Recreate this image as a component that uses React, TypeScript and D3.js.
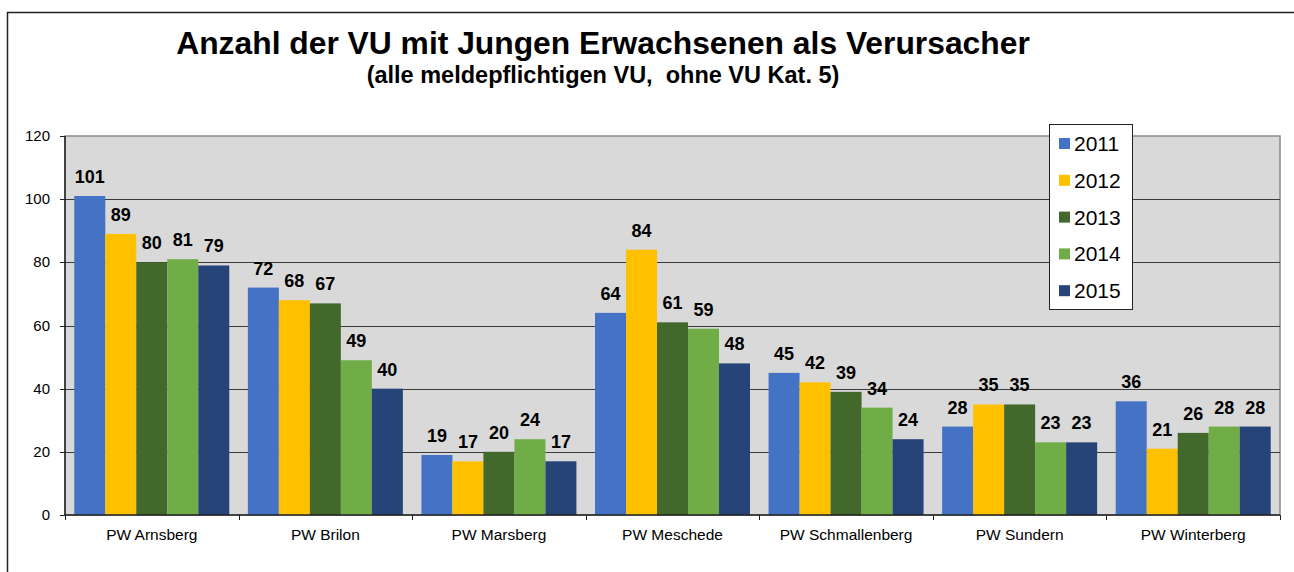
import React, { useEffect, useRef } from 'react';
import * as d3 from 'd3';

const categories = ['PW Arnsberg', 'PW Brilon', 'PW Marsberg', 'PW Meschede', 'PW Schmallenberg', 'PW Sundern', 'PW Winterberg'];
const years = ['2011', '2012', '2013', '2014', '2015'];
const colors = ['#4472c4', '#ffc000', '#43682b', '#70ad47', '#264478'];

const v2011 = [101, 72, 19, 64, 45, 28, 36];
const v2012 = [89, 68, 17, 84, 42, 35, 21];
const v2013 = [80, 67, 20, 61, 39, 35, 26];
const v2014 = [81, 49, 24, 59, 34, 23, 28];
const v2015 = [79, 40, 17, 48, 24, 23, 28];
const series = [v2011, v2012, v2013, v2014, v2015];

const yTicks = [0, 20, 40, 60, 80, 100, 120];

const width = 1294;
const height = 572;

const App: React.FC = () => {
  const svgRef = useRef<SVGSVGElement>(null);

  useEffect(() => {
    if (!svgRef.current) return;
    const svg = d3.select(svgRef.current);
    svg.selectAll('*').remove();

    const font = 'Liberation Sans, Arial, sans-serif';
    const plot = { left: 65, right: 1280, top: 136, bottom: 515 };

    // outer frame
    svg.append('rect')
      .attr('x', 7.5).attr('y', 12.5)
      .attr('width', 1300).attr('height', 600)
      .attr('fill', '#fff')
      .attr('stroke', '#222')
      .attr('stroke-width', 1.5);

    svg.append('text')
      .attr('x', 603).attr('y', 54)
      .attr('text-anchor', 'middle')
      .attr('font-family', font)
      .attr('font-weight', 'bold')
      .attr('font-size', '31.8px')
      .attr('fill', '#000')
      .text('Anzahl der VU mit Jungen Erwachsenen als Verursacher');

    svg.append('text')
      .attr('x', 603).attr('y', 83)
      .attr('text-anchor', 'middle')
      .attr('font-family', font)
      .attr('font-weight', 'bold')
      .attr('font-size', '23.5px')
      .attr('fill', '#000')
      .style('white-space', 'pre')
      .text('(alle meldepflichtigen VU,  ohne VU Kat. 5)');

    const x0 = d3.scaleBand<string>()
      .domain(categories)
      .range([plot.left, plot.right])
      .paddingInner(0.107)
      .paddingOuter(0.0535);

    const x1 = d3.scaleBand<string>()
      .domain(years)
      .range([0, x0.bandwidth()]);

    const y = d3.scaleLinear().domain([0, 120]).range([plot.bottom, plot.top]);

    // plot background
    svg.append('rect')
      .attr('x', plot.left).attr('y', plot.top)
      .attr('width', plot.right - plot.left)
      .attr('height', plot.bottom - plot.top)
      .attr('fill', '#d9d9d9')
      .attr('stroke', '#8a8a8a')
      .attr('stroke-width', 1.5);

    // gridlines
    svg.append('g')
      .selectAll('line')
      .data(yTicks.filter((t) => t > 0 && t < 120))
      .enter()
      .append('line')
      .attr('x1', plot.left).attr('x2', plot.right)
      .attr('y1', (d) => Math.round(y(d)) + 0.5)
      .attr('y2', (d) => Math.round(y(d)) + 0.5)
      .attr('stroke', '#3a3a3a')
      .attr('stroke-width', 1);

    // bars
    const groups = svg.append('g')
      .selectAll('g')
      .data(categories)
      .enter()
      .append('g')
      .attr('transform', (d) => `translate(${x0(d)},0)`);

    groups.selectAll('rect')
      .data((_, i) => years.map((yr, j) => ({ yr, j, v: series[j][i] })))
      .enter()
      .append('rect')
      .attr('x', (d) => x1(d.yr)!)
      .attr('y', (d) => y(d.v))
      .attr('width', x1.bandwidth())
      .attr('height', (d) => y(0) - y(d.v))
      .attr('fill', (d) => colors[d.j]);

    groups.selectAll('text')
      .data((_, i) => years.map((yr, j) => ({ yr, j, v: series[j][i] })))
      .enter()
      .append('text')
      .attr('x', (d) => x1(d.yr)! + x1.bandwidth() / 2)
      .attr('y', (d) => y(d.v) - 13)
      .attr('text-anchor', 'middle')
      .attr('font-family', font)
      .attr('font-weight', 'bold')
      .attr('font-size', '18px')
      .attr('fill', '#000')
      .text((d) => d.v);

    // y axis
    const yAxis = svg.append('g');
    yAxis.append('line')
      .attr('x1', plot.left).attr('x2', plot.left)
      .attr('y1', plot.top).attr('y2', plot.bottom)
      .attr('stroke', '#222').attr('stroke-width', 1.5);
    yTicks.forEach((t) => {
      yAxis.append('line')
        .attr('x1', plot.left - 5).attr('x2', plot.left)
        .attr('y1', Math.round(y(t)) + 0.5).attr('y2', Math.round(y(t)) + 0.5)
        .attr('stroke', '#222');
      yAxis.append('text')
        .attr('x', plot.left - 15)
        .attr('y', y(t) + 5)
        .attr('text-anchor', 'end')
        .attr('font-family', font)
        .attr('font-size', '15px')
        .attr('fill', '#000')
        .text(t);
    });

    // x axis
    const xAxis = svg.append('g');
    xAxis.append('line')
      .attr('x1', plot.left).attr('x2', plot.right)
      .attr('y1', plot.bottom).attr('y2', plot.bottom)
      .attr('stroke', '#222').attr('stroke-width', 1.5);
    const step = (plot.right - plot.left) / categories.length;
    d3.range(categories.length + 1).forEach((k) => {
      const xx = Math.round(plot.left + k * step) + 0.5;
      xAxis.append('line')
        .attr('x1', xx).attr('x2', xx)
        .attr('y1', plot.bottom).attr('y2', plot.bottom + 5)
        .attr('stroke', '#222');
    });
    categories.forEach((c) => {
      xAxis.append('text')
        .attr('x', x0(c)! + x0.bandwidth() / 2)
        .attr('y', 540)
        .attr('text-anchor', 'middle')
        .attr('font-family', font)
        .attr('font-size', '15.5px')
        .attr('fill', '#000')
        .text(c);
    });

    // legend
    const legend = svg.append('g');
    legend.append('rect')
      .attr('x', 1049.5).attr('y', 124.5)
      .attr('width', 83).attr('height', 185)
      .attr('fill', '#fff')
      .attr('stroke', '#222')
      .attr('stroke-width', 1);
    years.forEach((yr, j) => {
      const cy = 143 + j * 36.8;
      legend.append('rect')
        .attr('x', 1059).attr('y', cy - 5)
        .attr('width', 11).attr('height', 11)
        .attr('fill', colors[j]);
      legend.append('text')
        .attr('x', 1074).attr('y', cy + 8)
        .attr('font-family', font)
        .attr('font-size', '21px')
        .attr('fill', '#000')
        .text(yr);
    });
  }, []);

  return (
    <svg
      ref={svgRef}
      width={width}
      height={height}
      style={{ position: 'absolute', left: 0, top: 0, display: 'block' }}
    />
  );
};

export default App;
